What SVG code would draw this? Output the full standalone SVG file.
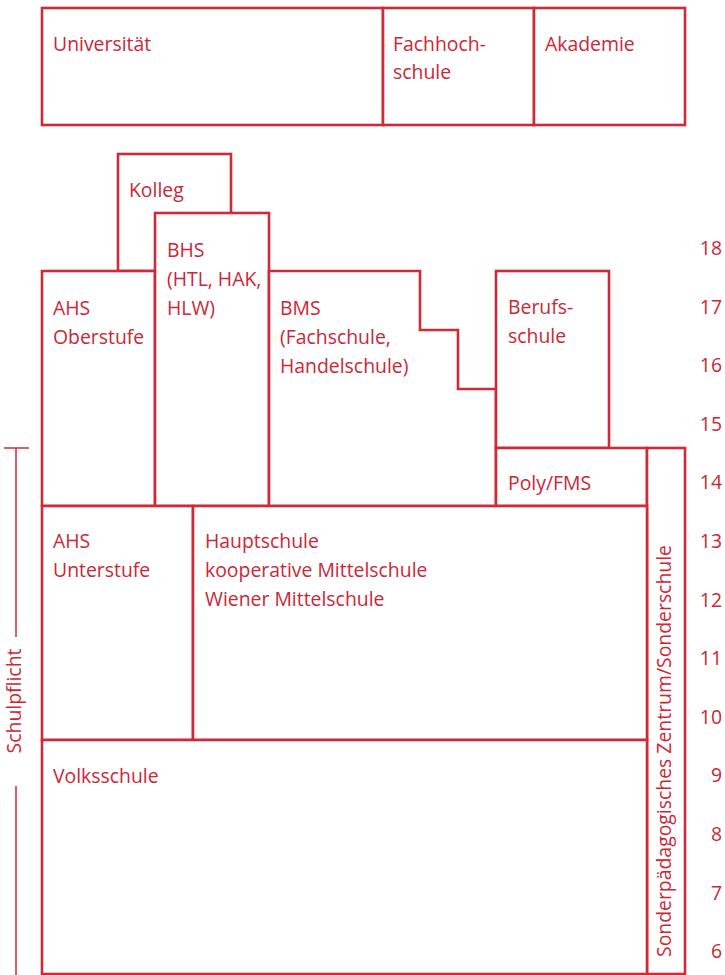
<svg xmlns="http://www.w3.org/2000/svg" width="725" height="975" viewBox="0 0 725 975">
<style>
.b{fill:#fff;stroke:#CF2A38;stroke-width:2.6}
.t{font-family:"Open Sans","Noto Sans",sans-serif;font-size:19.4px;fill:#CD2636}
.n{font-family:"Open Sans","Noto Sans",sans-serif;font-size:19.4px;fill:#CD2636;text-anchor:end}
.l{stroke:#CF2A38;stroke-width:1.5;fill:none}
</style>
<rect width="725" height="975" fill="#fff"/>
<g id="universitaet"><rect class="b" x="42" y="8" width="341" height="117"/><text class="t" x="53" y="51">Universität</text></g>
<g id="fachhochschule"><rect class="b" x="383" y="8" width="151" height="117"/><text class="t" x="393" y="51">Fachhoch-</text><text class="t" x="393" y="79">schule</text></g>
<g id="akademie"><rect class="b" x="534" y="8" width="151" height="117"/><text class="t" x="545" y="51">Akademie</text></g>
<g id="kolleg"><rect class="b" x="118" y="154" width="113" height="117"/><text class="t" x="129" y="197">Kolleg</text></g>
<g id="ahs-oberstufe"><rect class="b" x="42" y="271" width="113" height="235"/><text class="t" x="53" y="315">AHS</text><text class="t" x="53" y="344">Oberstufe</text></g>
<g id="bhs"><rect class="b" x="155" y="213" width="114" height="293"/><text class="t" x="167" y="257">BHS</text><text class="t" x="167" y="286">(HTL, HAK,</text><text class="t" x="167" y="315">HLW)</text></g>
<g id="bms"><path class="b" d="M269,271 H420 V330 H458 V389 H496 V506 H269 Z"/><text class="t" x="280" y="315">BMS</text><text class="t" x="280" y="344">(Fachschule,</text><text class="t" x="280" y="373">Handelschule)</text></g>
<g id="berufsschule"><rect class="b" x="496" y="271" width="113" height="177"/><text class="t" x="508" y="314">Berufs-</text><text class="t" x="508" y="343">schule</text></g>
<g id="poly-fms"><rect class="b" x="496" y="448" width="151" height="58"/><text class="t" x="508" y="490">Poly/FMS</text></g>
<g id="sonderschule"><rect class="b" x="647" y="448" width="38" height="526"/><text class="t" transform="translate(671,957) rotate(-90)">Sonderpädagogisches Zentrum/Sonderschule</text></g>
<g id="ahs-unterstufe"><rect class="b" x="42" y="506" width="151" height="234"/><text class="t" x="53" y="548">AHS</text><text class="t" x="53" y="577">Unterstufe</text></g>
<g id="hauptschule"><rect class="b" x="193" y="506" width="454" height="234"/><text class="t" x="205" y="548">Hauptschule</text><text class="t" x="205" y="577">kooperative Mittelschule</text><text class="t" x="205" y="606">Wiener Mittelschule</text></g>
<g id="volksschule"><rect class="b" x="42" y="740" width="605" height="234"/><text class="t" x="53" y="783">Volksschule</text></g>
<g id="schulpflicht"><path class="l" d="M4,448 H29 M16,448 V637 M16,786 V975"/><text class="t" text-anchor="middle" transform="translate(21,701) rotate(-90)">Schulpflicht</text></g>
<g id="ages">
<text class="n" x="722" y="255">18</text>
<text class="n" x="722" y="313.6">17</text>
<text class="n" x="722" y="372.2">16</text>
<text class="n" x="722" y="430.8">15</text>
<text class="n" x="722" y="489.4">14</text>
<text class="n" x="722" y="548">13</text>
<text class="n" x="722" y="606.6">12</text>
<text class="n" x="722" y="665.2">11</text>
<text class="n" x="722" y="723.8">10</text>
<text class="n" x="722" y="782.4">9</text>
<text class="n" x="722" y="841">8</text>
<text class="n" x="722" y="899.6">7</text>
<text class="n" x="722" y="958.2">6</text>
</g>
<g id="connectors"></g>
</svg>
